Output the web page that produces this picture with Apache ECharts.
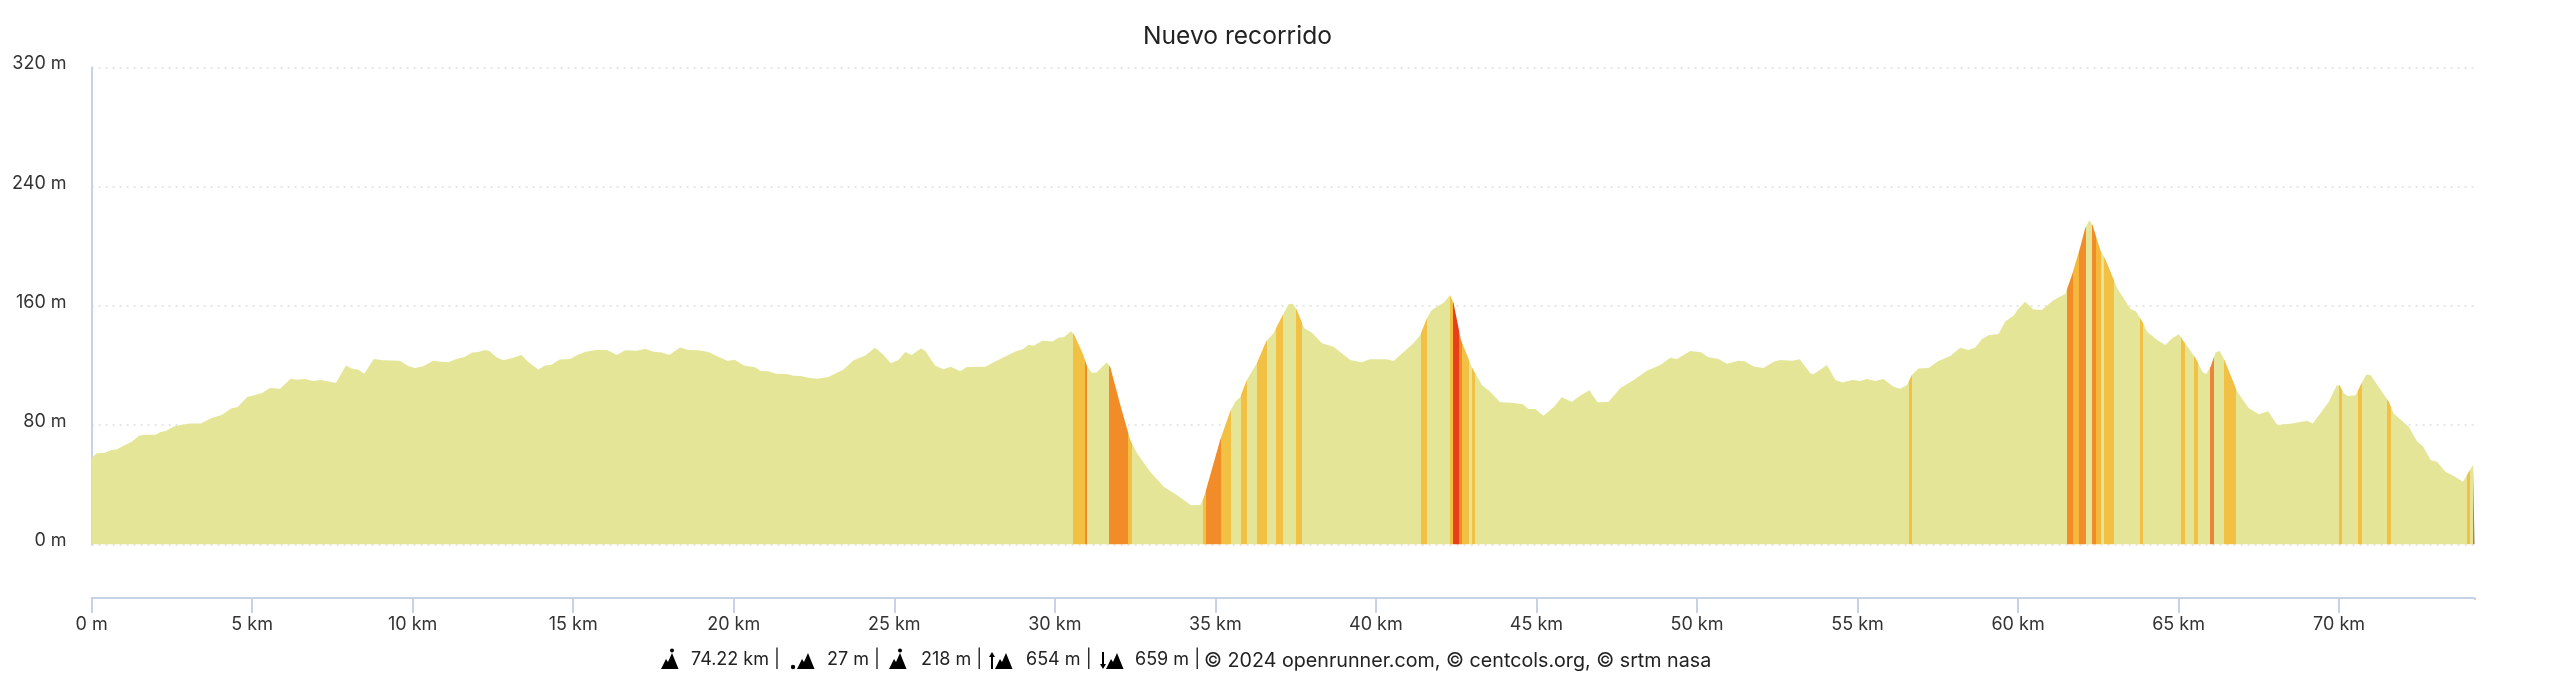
<!DOCTYPE html>
<html><head><meta charset="utf-8">
<style>html,body{margin:0;padding:0;background:#fff}#c{width:2560px;height:683px}</style>
<script src="https://cdn.jsdelivr.net/npm/echarts@6/dist/echarts.min.js"></script>
</head><body><div id="c"></div>
<script>
const titleText = "Nuevo recorrido";
const xTicks = [0,5,10,15,20,25,30,35,40,45,50,55,60,65,70];
const totalKm = 74.22;
const distanceKm = [0,0.16,0.42,0.62,0.78,0.99,1.25,1.49,1.66,2.0,2.13,2.32,2.6,3.06,3.4,3.74,4.05,4.36,4.54,4.85,5.09,5.33,5.55,5.87,6.2,6.38,6.67,6.88,7.13,7.42,7.61,7.92,8.1,8.31,8.49,8.79,9.08,9.6,9.86,10.07,10.33,10.64,10.9,11.11,11.32,11.63,11.84,12.04,12.25,12.39,12.61,12.82,13.13,13.39,13.6,13.91,14.12,14.32,14.58,14.9,15.16,15.39,15.73,16.05,16.36,16.62,16.98,17.24,17.5,17.76,17.99,18.33,18.59,18.9,19.21,19.52,19.8,20.04,20.32,20.66,20.84,21.08,21.31,21.65,21.86,22.09,22.33,22.59,22.95,23.42,23.73,24.09,24.4,24.66,24.89,25.13,25.34,25.54,25.83,25.96,26.27,26.53,26.76,27.05,27.26,27.83,28.24,28.76,29.02,29.18,29.33,29.62,29.93,30.11,30.29,30.5,30.6,30.89,31.01,31.15,31.3,31.62,31.73,32.04,32.35,32.56,32.97,33.39,33.8,34.24,34.53,34.65,35.15,35.46,35.62,35.77,35.98,36.29,36.58,36.81,37.07,37.28,37.41,37.54,37.77,38.01,38.32,38.68,39.2,39.56,39.82,40.34,40.55,41.17,41.38,41.59,41.74,42.11,42.31,42.42,42.65,42.99,43.3,43.56,43.87,44.23,44.58,44.75,44.96,45.22,45.55,45.79,46.1,46.36,46.65,46.9,47.24,47.61,48.03,48.44,48.86,49.17,49.38,49.79,50.12,50.36,50.67,50.93,51.3,51.5,51.76,52.07,52.39,52.59,52.96,53.2,53.53,53.63,54.05,54.31,54.53,54.83,55.09,55.29,55.55,55.81,56.12,56.33,56.54,56.69,56.9,57.21,57.52,57.89,58.2,58.46,58.67,58.87,59.08,59.39,59.6,59.86,59.98,60.22,60.48,60.74,61.11,61.47,61.68,61.94,62.09,62.22,62.32,62.56,62.73,63.09,63.5,63.66,63.87,64.02,64.33,64.59,64.8,65.01,65.17,65.37,65.53,65.74,65.86,66,66.15,66.28,66.43,66.83,67.19,67.5,67.79,68.07,68.54,69,69.18,69.68,69.92,70.01,70.15,70.27,70.51,70.67,70.84,70.98,71.19,71.55,71.7,72.17,72.43,72.62,72.85,73.05,73.31,73.57,73.86,74.04,74.17,74.22];
const elevationM = [58,61.1,61.5,63.3,63.7,66.2,68.9,73.1,73.6,73.6,75.2,76.3,79.4,81.2,81.2,84.8,86.8,91.3,92,98.9,100.2,101.8,104.9,104.5,111.2,110.5,111,109.6,110.3,109.2,108.3,120.1,118.1,117.2,114.5,124.4,123.5,123.2,119.7,118.3,119.5,123.2,122.6,122.3,124.1,125.9,128.6,129.1,130.4,129.7,125.5,123.5,125.3,127.1,122.4,117.4,120.1,120.6,124.1,124.4,127.5,129.3,130.4,130.4,127.1,130.2,130,131.3,129.3,128.8,127.1,132.2,130.4,130.2,129.1,125.9,123.2,123.7,120.1,118.8,116.3,116.1,114.5,114.3,113.2,113,111.8,111.2,112.3,117.4,123.5,126.6,132,127.3,121.5,123.7,129.1,127.1,131.5,130,120.1,117.6,119.2,116.1,119,119.2,123.7,129.3,131.1,134,133.3,136.7,136.2,138.7,139.1,143.1,140.9,127.1,119.2,115.2,115.4,122.2,118.8,93.6,70.1,61.1,48.8,38.7,33.2,26.2,26.4,32,70.1,89.1,95.8,98.7,110.3,121.5,136.1,141.7,152.8,161.1,161.4,157.3,145,142.1,135,132.7,123.8,122.2,124.2,124.2,123.1,135,140.5,151.7,157.3,162.2,167.2,161.8,137.2,118.8,107,102.5,95.4,95.1,94,90.9,90.9,86.4,92.4,98.7,95.6,99.8,103.4,95.4,95.6,104.7,110.3,116.6,120.4,125.3,124.4,129.8,128.9,125.5,124.4,121.3,123.3,122.8,119.3,118.4,122.6,123.7,123.3,124.2,114.8,114.1,120.4,110.3,108.7,110.3,109.6,111,109.6,111,105.8,104.5,107,113.7,118.1,118.4,123.1,126.4,132,130.4,132.2,137.6,140.3,141.2,149.5,153.5,157.3,162.9,157.7,157.3,164,168,180.8,199.8,212.1,217.5,214.3,197.6,190.8,171.8,158,156.6,149.5,142.7,137.2,133.8,138.3,141,136,130,124.9,115.9,114.1,119.3,128.7,129.8,123.7,102.5,91.3,87.3,89.3,80.1,81.2,83,81.2,95.8,106.5,107,101.4,99.6,100,107,113.9,113.7,107,95.8,87.9,79,69,65.6,56.6,55.5,48.8,45.9,42.1,48.8,53.3,53.3];
const baseColor = "#e4e597", yellow = "#f2c144", amber = "#f5b83c", orange = "#f28c28", red = "#e83f1b", rust = "#e8853a", brown = "#b08050";
const bandStart = [30.58,30.93,31.70,32.29,34.61,34.71,35.19,35.8,36.29,36.9,37.5,41.4,42.31,42.4,42.6,42.69,43.0,56.59,61.51,61.71,61.91,62.3,62.42,62.69,63.79,65.09,65.48,65.99,66.41,70.0,70.59,71.5,73.99,74.17];
const bandEnd   = [30.93,31.01,32.29,32.40,34.71,35.19,35.50,36.0,36.6,37.1,37.7,41.6,42.4,42.6,42.69,42.89,43.1,56.69,61.71,61.91,62.11,62.42,62.59,63.0,63.9,65.2,65.6,66.1,66.8,70.09,70.71,71.61,74.09,74.22];
const bandColor = [yellow,orange,orange,yellow,yellow,orange,yellow,yellow,yellow,yellow,yellow,yellow,yellow,red,orange,yellow,yellow,yellow,orange,amber,orange,orange,amber,yellow,yellow,yellow,yellow,rust,yellow,yellow,yellow,yellow,yellow,brown];
const footerTexts = ["74.22 km |","27 m |","218 m |","654 m |","659 m |","© 2024 openrunner.com, © centcols.org, © srtm nasa"];
const footerLeft = [691,827,921,1026,1135,1204];
const footerSize = [18,18,18,18,18,19.7];
const iconKinds = ["person","dot","person","up","down"];
const iconLeft = [661,791,889,989,1100];

const font = "Inter, sans-serif";
const textColor = "#333333", axisColor = "#c8d2e6";
const seriesData = distanceKm.map((d,i)=>[d,elevationM[i]]);
const pieces = bandStart.map((s,i)=>({min:s,max:bandEnd[i],color:bandColor[i]}));

function icon(kind,x){
  const base = 669, out = [];
  const poly = pts => out.push({type:"polygon",silent:true,shape:{points:pts},style:{fill:"#000"}});
  const r = kind==="person" ? 0 : 6;
  poly([[x+r,base],[x+r+5,base-10],[x+r+7,base-7],[x+r+11,base-16],[x+r+17.5,base]]);
  if(kind==="person"){
    out.push({type:"circle",silent:true,shape:{cx:x+11,cy:base-18.5,r:2},style:{fill:"#000"}});
  }
  if(kind==="dot"){
    out.push({type:"circle",silent:true,shape:{cx:x+2,cy:base-2,r:2.2},style:{fill:"#000"}});
  }
  if(kind==="up"){
    poly([[x+2,base],[x+2,base-12],[x,base-12],[x+3,base-17],[x+6,base-12],[x+4,base-12],[x+4,base]]);
  }
  if(kind==="down"){
    poly([[x+2,base-17],[x+2,base-5],[x,base-5],[x+3,base],[x+6,base-5],[x+4,base-5],[x+4,base-17]]);
  }
  return out;
}

const graphics = [];
footerTexts.forEach((t,i)=>{
  graphics.push({type:"text",left:footerLeft[i],top:651,silent:true,style:{text:t,font:footerSize[i]+"px "+font,fill:"#222222"}});
});
iconKinds.forEach((k,i)=>graphics.push(...icon(k,iconLeft[i])));
// The reference has no tick at the end of the axis; the library always adds one at max.
graphics.push({type:"rect",silent:true,z:100,shape:{x:2471,y:600,width:8,height:16},style:{fill:"#ffffff"}});

const chart = echarts.init(document.getElementById("c"));
chart.setOption({
  animation:false,
  backgroundColor:"#ffffff",
  title:{text:titleText,left:1138,top:19,textStyle:{fontFamily:font,fontSize:24.6,fontWeight:"normal",color:"#222222"}},
  grid:{left:91.6,right:85.4,top:67.5,bottom:138.6,containLabel:false},
  xAxis:{type:"value",min:0,max:totalKm,interval:5,position:"bottom",offset:53.6,
    axisLine:{show:true,onZero:false,lineStyle:{color:axisColor,width:2}},
    axisTick:{show:true,length:15,lineStyle:{color:axisColor,width:2}},
    splitLine:{show:false},
    axisLabel:{customValues:xTicks,margin:18,fontFamily:font,fontSize:18,color:textColor,
      formatter:v=>v===0?"0 m":v+" km"}},
  yAxis:{type:"value",min:0,max:320,interval:80,
    axisLine:{show:true,lineStyle:{color:axisColor,width:2}},axisTick:{show:false},
    splitLine:{show:true,lineStyle:{color:"#e6e6e6",type:[2,5],width:2}},
    axisLabel:{margin:25,formatter:v=>"{a|"+v+" m}",
      rich:{a:{fontFamily:font,fontSize:18,color:textColor,padding:[0,0,7,0]}}}},
  visualMap:{show:false,type:"piecewise",dimension:0,seriesIndex:0,pieces:pieces,outOfRange:{color:baseColor}},
  series:[{type:"line",data:seriesData,showSymbol:false,symbol:"none",smooth:false,silent:true,
    lineStyle:{width:0},areaStyle:{opacity:1},z:3}],
  graphic:graphics
});
</script></body></html>
